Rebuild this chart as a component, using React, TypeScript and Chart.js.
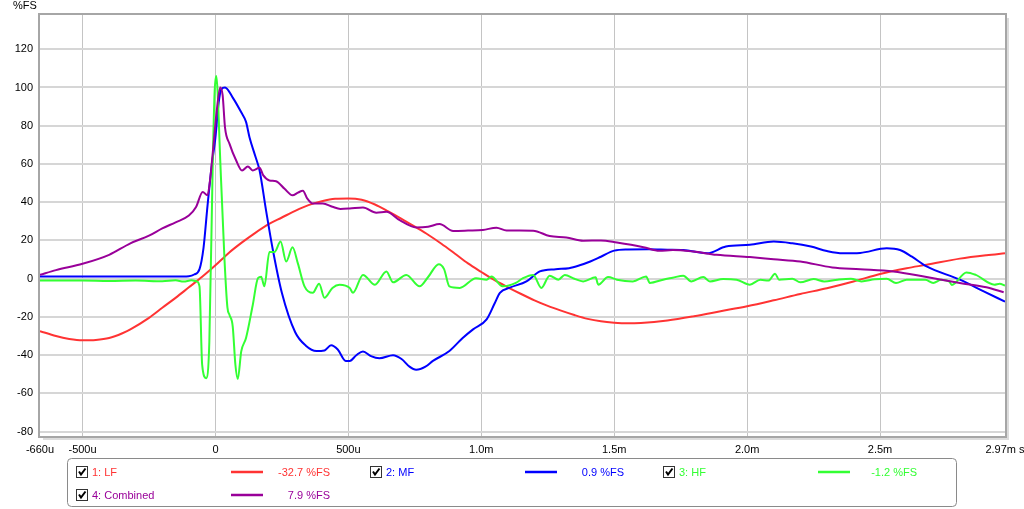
import React, { useEffect, useRef } from "react";
import { Chart, registerables } from "chart.js";

Chart.register(...registerables);

// ---- data (time in ms, amplitude in %FS) ----
const lfTime = [-0.66, -0.6, -0.55, -0.5, -0.45, -0.4, -0.35, -0.32, -0.25, -0.2, -0.15, -0.1, -0.05, 0, 0.05, 0.1, 0.15, 0.2, 0.25, 0.3, 0.35, 0.4, 0.45, 0.5, 0.55, 0.6, 0.65, 0.7, 0.75, 0.8, 0.85, 0.9, 0.95, 1.0, 1.05, 1.1, 1.15, 1.2, 1.25, 1.3, 1.35, 1.4, 1.45, 1.5, 1.55, 1.6, 1.7, 1.8, 1.9, 2.0, 2.1, 2.2, 2.3, 2.4, 2.5, 2.6, 2.675, 2.8, 2.9, 2.97];
const lfValues = [-27.4, -30, -31.5, -32.2, -32, -31, -28.5, -26.5, -20.5, -15.2, -10, -4.5, 1, 7, 13.5, 19, 24, 28.5, 32, 35.5, 38.5, 40.5, 41.8, 42, 41.3, 38.8, 35.2, 31.3, 27.2, 23, 18.3, 13.2, 8, 3.5, -0.8, -4.5, -8, -11.3, -14.2, -16.7, -19, -21, -22.3, -23, -23.3, -23.1, -21.8, -19.6, -17, -14.4, -11.3, -8, -5, -1.5, 2.5, 5.5, 7.3, 10.5, 12.3, 13.3];

const mfTime = [-0.66, -0.5, -0.3, -0.15, -0.1, -0.08, -0.06, -0.045, -0.03, -0.015, 0, 0.012, 0.022, 0.036, 0.065, 0.097, 0.115, 0.128, 0.15, 0.166, 0.19, 0.216, 0.25, 0.3, 0.34, 0.38, 0.41, 0.435, 0.46, 0.49, 0.505, 0.53, 0.555, 0.585, 0.617, 0.668, 0.7, 0.73, 0.755, 0.79, 0.818, 0.88, 0.93, 0.969, 1.02, 1.05, 1.07, 1.107, 1.17, 1.22, 1.28, 1.33, 1.37, 1.41, 1.45, 1.5, 1.55, 1.63, 1.7, 1.76, 1.85, 1.92, 2.01, 2.1, 2.17, 2.24, 2.3, 2.36, 2.425, 2.525, 2.575, 2.62, 2.675, 2.8, 2.89, 2.97];
const mfValues = [1.2, 1.2, 1.1, 1.1, 1.3, 2.2, 5, 16, 38, 58, 74, 92, 99, 100, 94.7, 87, 82, 74, 64, 56.6, 36, 15, -7.5, -28, -35, -37.8, -37.5, -34.8, -37, -43, -43, -40, -38, -40.5, -41.6, -40, -42, -46, -47.6, -46, -43, -37.8, -31, -26.5, -21.3, -13, -7.4, -4.7, -1.4, 3.8, 5, 5.5, 7, 9, 11.5, 14.7, 15.3, 15.4, 15.2, 15, 13.3, 16.8, 17.7, 19.4, 18.5, 16.8, 14.5, 13.3, 13.5, 15.9, 15, 11.5, 6.4, -0.5, -6.6, -12];

const hfTime = [-0.66, -0.5, -0.4, -0.3, -0.2, -0.15, -0.12, -0.09, -0.07, -0.06, -0.05, -0.035, -0.023, -0.01, -0.003, 0.003, 0.008, 0.018, 0.034, 0.045, 0.053, 0.065, 0.075, 0.084, 0.097, 0.115, 0.14, 0.16, 0.172, 0.184, 0.203, 0.222, 0.245, 0.266, 0.29, 0.31, 0.335, 0.366, 0.39, 0.41, 0.44, 0.467, 0.505, 0.517, 0.555, 0.6, 0.643, 0.668, 0.718, 0.768, 0.8, 0.84, 0.86, 0.88, 0.919, 0.98, 1.02, 1.038, 1.08, 1.13, 1.157, 1.195, 1.226, 1.257, 1.29, 1.314, 1.35, 1.383, 1.43, 1.44, 1.477, 1.51, 1.57, 1.62, 1.634, 1.684, 1.72, 1.76, 1.79, 1.835, 1.86, 1.91, 1.96, 2.01, 2.05, 2.08, 2.105, 2.12, 2.17, 2.2, 2.25, 2.29, 2.34, 2.39, 2.43, 2.48, 2.525, 2.56, 2.6, 2.67, 2.7, 2.73, 2.76, 2.77, 2.825, 2.86, 2.93, 2.95, 2.97];
const hfValues = [-1, -1, -1.2, -1, -1.3, -0.8, -1.5, -0.8, -1.4, -4, -45, -52, -33, 62, 98, 106, 98, 62, 10, -15, -19, -25, -45, -52.5, -38, -31, -14, 0.3, 1, -4, 14, 14, 19.4, 9, 16.4, 8, -4, -7.4, -2.6, -10, -4.8, -3.1, -4.8, -7.4, 2, -3.1, 3.8, -1.9, 2, -4, 0.9, 7.6, 5, -4, -4.8, 0.3, -0.5, 1.2, -4, -2.2, 0.3, 2, -4.8, 1.6, -0.5, 2, 0, -1.4, 0.7, -3.1, 0.9, -0.5, -1.4, 1.2, -2.2, -0.5, 0.5, 1.6, -1.4, 0.9, -1.4, -0.2, -0.5, -3.1, -0.5, -1, 2.6, -0.5, 0, -1.9, -0.2, -1.4, -0.5, 0, -1.4, -0.3, 0, -2.2, -0.5, -0.5, -2.2, -0.5, -1.4, -3.3, 3.3, 2, -3.1, -2.6, -3.6];

const combTime = [-0.66, -0.6, -0.5, -0.4, -0.32, -0.25, -0.2, -0.15, -0.1, -0.073, -0.048, -0.03, -0.02, -0.01, 0.005, 0.018, 0.027, 0.036, 0.053, 0.078, 0.1, 0.122, 0.14, 0.166, 0.18, 0.203, 0.228, 0.26, 0.29, 0.31, 0.329, 0.345, 0.366, 0.404, 0.44, 0.47, 0.505, 0.555, 0.605, 0.643, 0.693, 0.755, 0.8, 0.843, 0.894, 0.95, 1.006, 1.057, 1.095, 1.195, 1.257, 1.32, 1.383, 1.45, 1.51, 1.61, 1.67, 1.72, 1.797, 1.885, 2.01, 2.1, 2.2, 2.32, 2.425, 2.55, 2.675, 2.8, 2.9, 2.965];
const combValues = [2, 4.5, 7.8, 12.5, 18.5, 22.5, 26.3, 29.5, 33, 37.5, 45.4, 43.6, 52, 66, 88, 100, 96, 79, 70.5, 61.8, 56.6, 58.7, 56.6, 58, 54, 51.4, 51, 47, 43.6, 45, 46, 42, 39.3, 39.3, 37.6, 36.5, 36.7, 37.2, 34.5, 35, 30.6, 26.8, 27.2, 28.6, 25, 25.2, 25.5, 26.7, 25.2, 25.1, 22.3, 21.6, 19.9, 20, 18.9, 16.5, 14.6, 15, 14.2, 12.5, 11.3, 10.2, 9, 5.9, 5, 3.8, 0.9, -2.2, -4.5, -7.1];

const xTickValues = [-0.66, -0.5, 0, 0.5, 1.0, 1.5, 2.0, 2.5, 2.97];
const xTickLabels = ["-660u", "-500u", "0", "500u", "1.0m", "1.5m", "2.0m", "2.5m", "2.97m s"];
const yTickValues = [-80, -60, -40, -20, 0, 20, 40, 60, 80, 100, 120];

const seriesNames = ["1: LF", "2: MF", "3: HF", "4: Combined"];
const seriesReadouts = ["-32.7 %FS", "0.9 %FS", "-1.2 %FS", "7.9 %FS"];
const seriesColors = ["#ff3333", "#0000ff", "#33ff33", "#990099"];
const yAxisTitle = "%FS";

const FONT = "'Liberation Sans', Arial, sans-serif";

function pts(xs: number[], ys: number[]) {
  return xs.map((x, i) => ({ x, y: ys[i] }));
}

const framePlugin = {
  id: "framePlugin",
  afterDraw(chart: any) {
    const { ctx, chartArea } = chart;
    const { left, right, top, bottom } = chartArea;
    ctx.save();
    // shadow
    ctx.fillStyle = "#dcdcdc";
    ctx.fillRect(right + 1, top + 3, 3, bottom - top + 1);
    ctx.fillRect(left + 3, bottom + 1, right - left + 1, 3);
    // frame
    ctx.strokeStyle = "#a6a6a6";
    ctx.lineWidth = 2;
    ctx.strokeRect(left - 1, top - 1, right - left + 2, bottom - top + 2);
    // y axis title
    ctx.fillStyle = "#000";
    ctx.font = `11px ${FONT}`;
    ctx.textBaseline = "middle";
    ctx.textAlign = "left";
    ctx.fillText(yAxisTitle, 13, 6);

    // legend box
    const lx = 67.5, ly = 458.5, lw = 889, lh = 48, r = 4;
    ctx.beginPath();
    ctx.moveTo(lx + r, ly);
    ctx.lineTo(lx + lw - r, ly);
    ctx.arcTo(lx + lw, ly, lx + lw, ly + r, r);
    ctx.lineTo(lx + lw, ly + lh - r);
    ctx.arcTo(lx + lw, ly + lh, lx + lw - r, ly + lh, r);
    ctx.lineTo(lx + r, ly + lh);
    ctx.arcTo(lx, ly + lh, lx, ly + lh - r, r);
    ctx.lineTo(lx, ly + r);
    ctx.arcTo(lx, ly, lx + r, ly, r);
    ctx.closePath();
    ctx.strokeStyle = "#8a8a8a";
    ctx.lineWidth = 1;
    ctx.stroke();

    const slots = [
      { bx: 76, ty: 472 },
      { bx: 370, ty: 472 },
      { bx: 663, ty: 472 },
      { bx: 76, ty: 495 },
    ];
    slots.forEach((s, i) => {
      const col = seriesColors[i];
      // checkbox
      ctx.fillStyle = "#fff";
      ctx.fillRect(s.bx, s.ty - 6, 12, 12);
      ctx.strokeStyle = "#333";
      ctx.lineWidth = 1;
      ctx.strokeRect(s.bx + 0.5, s.ty - 5.5, 11, 11);
      ctx.strokeStyle = "#000";
      ctx.lineWidth = 2;
      ctx.beginPath();
      ctx.moveTo(s.bx + 3, s.ty - 0.5);
      ctx.lineTo(s.bx + 5, s.ty + 2.5);
      ctx.lineTo(s.bx + 9.5, s.ty - 3.5);
      ctx.stroke();
      // name
      ctx.fillStyle = col;
      ctx.font = `11px ${FONT}`;
      ctx.textAlign = "left";
      ctx.textBaseline = "middle";
      ctx.fillText(seriesNames[i], s.bx + 16, s.ty + 0.5);
      // sample line
      ctx.strokeStyle = col;
      ctx.lineWidth = 2.5;
      ctx.beginPath();
      ctx.moveTo(s.bx + 155, s.ty);
      ctx.lineTo(s.bx + 187, s.ty);
      ctx.stroke();
      // readout
      ctx.textAlign = "right";
      ctx.fillText(seriesReadouts[i], s.bx + 254, s.ty + 0.5);
    });
    ctx.restore();
  },
};

export default function App() {
  const ref = useRef<HTMLCanvasElement>(null);
  useEffect(() => {
    if (!ref.current) return;
    const mk = (label: string, xs: number[], ys: number[], color: string, order: number) => ({
      label,
      data: pts(xs, ys),
      borderColor: color,
      backgroundColor: color,
      borderWidth: 2,
      pointRadius: 0,
      tension: 0.4,
      cubicInterpolationMode: "monotone" as const,
      fill: false,
      order,
    });
    const chart = new Chart(ref.current, {
      type: "line",
      data: {
        datasets: [
          mk(seriesNames[0], lfTime, lfValues, seriesColors[0], 4),
          mk(seriesNames[1], mfTime, mfValues, seriesColors[1], 3),
          mk(seriesNames[2], hfTime, hfValues, seriesColors[2], 2),
          mk(seriesNames[3], combTime, combValues, seriesColors[3], 1),
        ],
      },
      options: {
        animation: false,
        responsive: false,
        devicePixelRatio: 1,
        layout: { padding: { top: 15, right: 19, left: 0, bottom: 0 } },
        plugins: { legend: { display: false }, tooltip: { enabled: false } },
        scales: {
          x: {
            type: "linear",
            min: -0.66,
            max: 2.97,
            afterBuildTicks: (scale: any) => {
              scale.ticks = xTickValues.map((v) => ({ value: v }));
            },
            afterFit: (scale: any) => {
              scale.height = 73;
              scale.paddingLeft = 0;
              scale.paddingRight = 0;
            },
            ticks: {
              autoSkip: false,
              maxRotation: 0,
              padding: 7,
              color: "#000",
              font: { family: FONT, size: 11 },
              callback: (v: any) => {
                const i = xTickValues.findIndex((t) => Math.abs(t - v) < 1e-6);
                return i >= 0 ? xTickLabels[i] : "";
              },
            },
            grid: {
              drawTicks: false,
              lineWidth: 1,
              color: (c: any) =>
                c.tick && (Math.abs(c.tick.value + 0.66) < 1e-6 || Math.abs(c.tick.value - 2.97) < 1e-6)
                  ? "rgba(0,0,0,0)"
                  : "#c4c4c4",
            },
            border: { display: false },
          },
          y: {
            type: "linear",
            min: -82.25,
            max: 137.9,
            afterBuildTicks: (scale: any) => {
              scale.ticks = yTickValues.map((v) => ({ value: v }));
            },
            afterFit: (scale: any) => {
              scale.width = 40;
            },
            ticks: {
              padding: 7,
              color: "#000",
              font: { family: FONT, size: 11 },
              callback: (v: any) => String(v),
            },
            grid: { drawTicks: false, lineWidth: 2, color: "#d6d6d6" },
            border: { display: false },
          },
        },
      },
      plugins: [framePlugin],
    });
    return () => chart.destroy();
  }, []);
  return (
    <div style={{ position: "fixed", left: 0, top: 0, width: 1024, height: 509, background: "#fff" }}>
      <canvas ref={ref} width={1024} height={509} style={{ display: "block" }} />
    </div>
  );
}
